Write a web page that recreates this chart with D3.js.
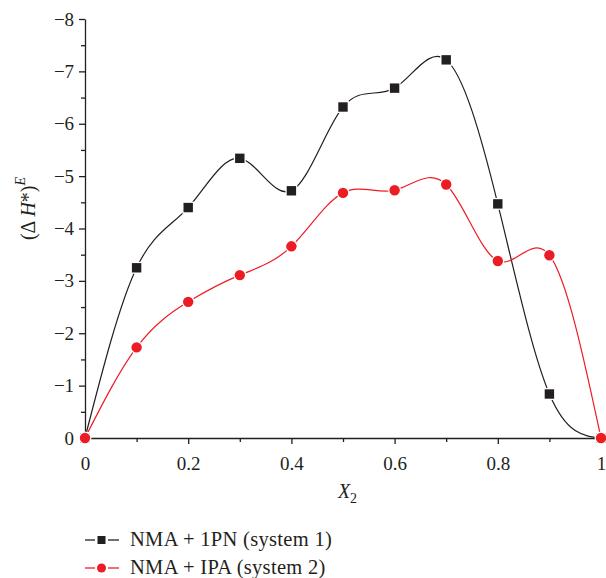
<!DOCTYPE html>
<html>
<head>
<meta charset="utf-8">
<script src="https://cdn.jsdelivr.net/npm/d3@7"></script>
<style>
  body { margin: 0; background: #fff; }
  svg { font-family: "Liberation Serif", "DejaVu Serif", serif; }
</style>
</head>
<body>
<div id="chart"></div>
<script>
// Data
const xValues = [0, 0.1, 0.2, 0.3, 0.4, 0.5, 0.6, 0.7, 0.8, 0.9, 1.0];
const system1 = [0, -3.25, -4.40, -5.34, -4.72, -6.32, -6.68, -7.22, -4.47, -0.84, 0];
const system2 = [0, -1.73, -2.60, -3.11, -3.66, -4.68, -4.73, -4.84, -3.38, -3.49, 0];
const seriesNames = ['NMA + 1PN (system 1)', 'NMA + IPA (system 2)'];
const xTicks = [0, 0.2, 0.4, 0.6, 0.8, 1];
const yTicks = [0, -1, -2, -3, -4, -5, -6, -7, -8];

const width = 606, height = 578;
const margin = { top: 19, right: 4, bottom: 140, left: 85 };
const innerWidth = width - margin.left - margin.right;
const innerHeight = height - margin.top - margin.bottom;
const ink = '#231f20';
const serif = '"Liberation Serif", "DejaVu Serif", serif';

const svg = d3.select('#chart').append('svg')
    .attr('width', width)
    .attr('height', height);

const g = svg.append('g')
    .attr('transform', `translate(${margin.left},${margin.top})`);

const xScale = d3.scaleLinear().domain([0, 1]).range([0, innerWidth - 1]);
const yScale = d3.scaleLinear().domain([0, -8]).range([innerHeight, 0]);

const fmtY = d => d === 0 ? '0' : String(d).replace('-', '\u2212');
const fmtX = d => (d === 0 || d === 1) ? String(d) : d.toFixed(1);

// X axis: major + minor ticks
const xAxis = g.append('g')
    .attr('transform', `translate(0,${innerHeight})`)
    .call(d3.axisBottom(xScale).tickValues(xTicks).tickSize(6).tickSizeOuter(0).tickFormat(fmtX));
const xMinor = g.append('g')
    .attr('transform', `translate(0,${innerHeight})`)
    .call(d3.axisBottom(xScale).tickValues([0.1, 0.3, 0.5, 0.7, 0.9]).tickSize(4).tickSizeOuter(0).tickFormat(''));
xMinor.select('.domain').remove();
xMinor.selectAll('text').remove();

// Y axis
const yAxis = g.append('g')
    .call(d3.axisLeft(yScale).tickValues(yTicks).tickSize(6).tickSizeOuter(0).tickFormat(fmtY));
const yMinor = g.append('g')
    .call(d3.axisLeft(yScale).tickValues([-0.5, -1.5, -2.5, -3.5, -4.5, -5.5, -6.5, -7.5]).tickSize(4).tickSizeOuter(0).tickFormat(''));
yMinor.select('.domain').remove();
yMinor.selectAll('text').remove();

g.selectAll('.domain, .tick line').attr('stroke', ink).attr('stroke-width', 1.3);
[xAxis, yAxis].forEach(a => a.attr('font-family', serif).attr('font-size', 19));
xAxis.selectAll('text').attr('fill', ink).attr('dy', '1.2em');
yAxis.selectAll('text').attr('fill', ink).attr('dx', '-0.1em');

// Axis labels
const yLab = svg.append('text')
    .attr('transform', `translate(35,${margin.top + innerHeight / 2 - 20}) rotate(-90)`)
    .attr('text-anchor', 'middle')
    .attr('font-size', 20)
    .attr('fill', ink);
yLab.append('tspan').text('(\u0394\u2009');
yLab.append('tspan').attr('font-style', 'italic').text('H');
yLab.append('tspan').text('*)');
yLab.append('tspan').attr('font-style', 'italic').attr('font-size', 14).attr('dy', -10).text('E');

const xLab = svg.append('text')
    .attr('x', margin.left + innerWidth / 2 + 4)
    .attr('y', 498)
    .attr('text-anchor', 'middle')
    .attr('font-size', 20)
    .attr('fill', ink);
xLab.append('tspan').attr('font-style', 'italic').text('X');
xLab.append('tspan').attr('font-size', 14).attr('dy', 5).text('2');

// Lines
const series = [
    { name: seriesNames[0], values: system1, color: ink, shape: 'square' },
    { name: seriesNames[1], values: system2, color: '#ed1c24', shape: 'circle' }
];

const line = d3.line()
    .x((d, i) => xScale(xValues[i]))
    .y(d => yScale(d))
    .curve(d3.curveNatural);

series.forEach(s => {
    g.append('path')
        .datum(s.values)
        .attr('d', line)
        .attr('fill', 'none')
        .attr('stroke', s.color)
        .attr('stroke-width', 1.2);
});

// markers with a white halo, like the original
function drawMarker(sel, s, x, y) {
    if (s.shape === 'square') {
        sel.append('rect')
            .attr('x', x - 4.7).attr('y', y - 4.7)
            .attr('width', 9.4).attr('height', 9.4)
            .attr('fill', s.color)
            .attr('stroke', '#fff').attr('stroke-width', 2.5)
            .attr('paint-order', 'stroke');
    } else {
        sel.append('circle')
            .attr('cx', x).attr('cy', y).attr('r', 5.2)
            .attr('fill', s.color)
            .attr('stroke', '#fff').attr('stroke-width', 2.5)
            .attr('paint-order', 'stroke');
    }
}

series.forEach(s => {
    s.values.forEach((v, i) => drawMarker(g, s, xScale(xValues[i]), yScale(v)));
});

// Legend
const legend = svg.append('g');
series.forEach((s, i) => {
    const y = 540 + i * 28;
    legend.append('line')
        .attr('x1', 85).attr('x2', 95).attr('y1', y).attr('y2', y)
        .attr('stroke', s.color).attr('stroke-width', 1.3);
    legend.append('line')
        .attr('x1', 108).attr('x2', 119).attr('y1', y).attr('y2', y)
        .attr('stroke', s.color).attr('stroke-width', 1.3);
    if (s.shape === 'square') {
        legend.append('rect').attr('x', 97.5).attr('y', y - 4).attr('width', 8).attr('height', 8).attr('fill', s.color);
    } else {
        legend.append('circle').attr('cx', 101.5).attr('cy', y).attr('r', 4.5).attr('fill', s.color);
    }
    legend.append('text')
        .attr('x', 130).attr('y', y + 6)
        .attr('font-size', 20.5)
        .attr('letter-spacing', 0.3)
        .attr('fill', ink)
        .text(s.name);
});
</script>
</body>
</html>
